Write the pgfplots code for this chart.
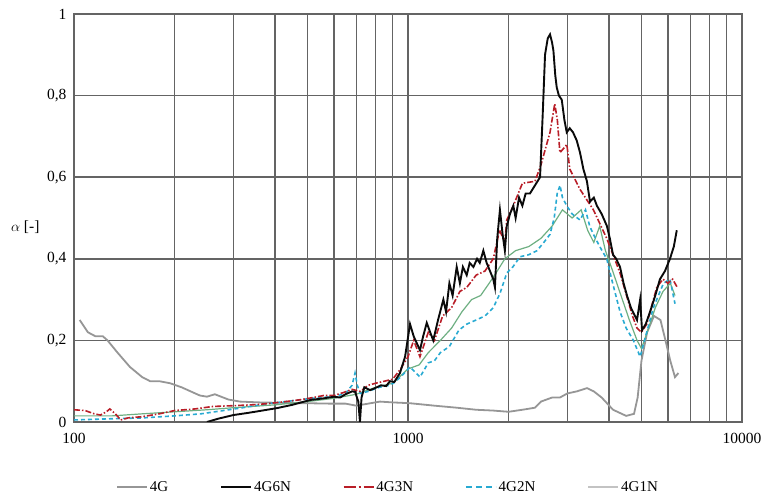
\documentclass[border=0pt]{standalone}
\usepackage{pgfplots}
\pgfplotsset{compat=1.18}
\usepackage{fontspec}
\setmainfont{Liberation Serif}
\definecolor{gridc}{RGB}{100,100,100}
\definecolor{c4G}{RGB}{150,150,150}
\definecolor{c6N}{RGB}{10,10,10}
\definecolor{c3N}{RGB}{185,30,40}
\definecolor{c2N}{RGB}{40,170,210}
\definecolor{c1N}{RGB}{110,175,130}
\definecolor{c1Nleg}{RGB}{195,195,195}
\begin{document}
\begin{tikzpicture}
\path[use as bounding box] (-74pt,-72pt) rectangle (690pt,422pt);
\begin{axis}[
  scale only axis, width=668pt, height=408pt,
  xmode=log, xmin=100, xmax=10000, ymin=0, ymax=1,
  xtick={100,1000,10000}, xticklabels={100,1000,10000},
  ytick={0,0.2,0.4,0.6,0.8,1},
  yticklabels={0,{0,2},{0,4},{0,6},{0,8},1},
  grid=both,
  major grid style={gridc, line width=1.5pt},
  minor grid style={gridc, line width=1.5pt},
  axis line style={gridc, line width=1.5pt},
  tick style={draw=none},
  ticklabel style={font=\fontsize{15.5}{17}\selectfont},
  xticklabel style={yshift=-8pt},
  yticklabel style={xshift=-4pt},
  ylabel={$\alpha$ [-]},
  ylabel style={rotate=-90, at={(axis description cs:-0.073,0.478)}, anchor=center, font=\fontsize{15.5}{17}\selectfont},
  legend columns=5,
  legend image code/.code={\draw[#1] (0pt,0pt) -- (30pt,0pt);},
  legend style={draw=none, fill=none, at={(axis description cs:0.5,0)}, anchor=north, xshift=-20pt, yshift=-55pt,
    font=\fontsize{15}{17}\selectfont,
    /tikz/every even column/.append style={column sep=50pt}},
]
% 4G
\addplot[forget plot, c4G, line width=1.8pt] coordinates {
(104,0.25) (110,0.22) (116,0.21) (122,0.21) (126,0.20) (135,0.17) (147,0.135) (160,0.11) (169,0.10) (180,0.10) (194,0.095) (210,0.085) (238,0.065) (250,0.062) (264,0.068) (290,0.055) (314,0.05) (360,0.048) (414,0.047) (500,0.046) (584,0.045) (650,0.045) (700,0.04) (760,0.045) (824,0.05) (900,0.048) (1014,0.046) (1200,0.04) (1400,0.035) (1600,0.03) (1800,0.028) (2000,0.025) (2200,0.03) (2400,0.035) (2500,0.05) (2700,0.06) (2850,0.06) (3000,0.07) (3200,0.075) (3435,0.083) (3600,0.075) (3800,0.06) (4110,0.03) (4500,0.015) (4750,0.02) (4870,0.06) (5000,0.15) (5200,0.22) (5450,0.26) (5700,0.25) (5900,0.2) (6100,0.15) (6300,0.11) (6450,0.12)
};
% 4G1N
\addplot[forget plot, c1N, line width=1.2pt] coordinates {
(100,0.015) (130,0.015) (160,0.02) (200,0.025) (250,0.03) (300,0.035) (400,0.042) (500,0.05) (600,0.058) (700,0.068) (800,0.085) (900,0.095) (1000,0.13) (1080,0.14) (1150,0.17) (1250,0.2) (1350,0.23) (1450,0.27) (1550,0.30) (1650,0.31) (1750,0.34) (1850,0.37) (1950,0.40) (2100,0.42) (2300,0.43) (2500,0.45) (2700,0.48) (2900,0.52) (3100,0.50) (3300,0.52) (3450,0.47) (3600,0.44) (3750,0.48) (3900,0.42) (4100,0.37) (4300,0.32) (4600,0.25) (4850,0.20) (5000,0.18) (5200,0.22) (5500,0.28) (5800,0.32) (6100,0.34) (6300,0.31)
};
% 4G2N
\addplot[forget plot, c2N, line width=1.6pt, dash pattern=on 4pt off 3pt] coordinates {
(100,0.005) (130,0.008) (160,0.01) (200,0.015) (240,0.02) (280,0.028) (320,0.035) (380,0.045) (430,0.05) (480,0.055) (540,0.06) (600,0.062) (650,0.07) (680,0.09) (694,0.12) (705,0.09) (720,0.07) (760,0.075) (820,0.085) (880,0.09) (904,0.095) (950,0.11) (1014,0.135) (1086,0.11) (1150,0.145) (1200,0.15) (1250,0.17) (1330,0.185) (1420,0.225) (1500,0.24) (1600,0.25) (1700,0.26) (1800,0.28) (1885,0.315) (1976,0.365) (2060,0.38) (2164,0.405) (2300,0.41) (2434,0.42) (2550,0.44) (2662,0.46) (2740,0.50) (2797,0.56) (2852,0.58) (2900,0.55) (2988,0.53) (3100,0.51) (3274,0.495) (3400,0.52) (3500,0.48) (3590,0.46) (3750,0.43) (3936,0.40) (4100,0.34) (4314,0.27) (4500,0.23) (4730,0.20) (4954,0.16) (5185,0.22) (5427,0.28) (5820,0.34) (6086,0.35) (6300,0.29)
};
% 4G3N
\addplot[forget plot, c3N, line width=1.6pt, dash pattern=on 6pt off 2pt on 1.5pt off 2pt] coordinates {
(100,0.03) (108,0.028) (115,0.02) (120,0.017) (125,0.025) (128,0.032) (133,0.02) (138,0.005) (145,0.01) (160,0.013) (180,0.02) (200,0.028) (230,0.032) (260,0.038) (300,0.04) (340,0.042) (380,0.045) (430,0.05) (480,0.055) (520,0.06) (560,0.065) (600,0.065) (640,0.072) (680,0.08) (720,0.075) (760,0.09) (800,0.095) (850,0.10) (900,0.105) (950,0.13) (1000,0.16) (1040,0.20) (1086,0.16) (1150,0.22) (1200,0.20) (1270,0.26) (1350,0.28) (1430,0.32) (1500,0.33) (1600,0.36) (1700,0.37) (1800,0.40) (1880,0.47) (1950,0.44) (1976,0.495) (2067,0.53) (2200,0.585) (2400,0.59) (2500,0.63) (2662,0.71) (2750,0.78) (2800,0.74) (2850,0.66) (2990,0.68) (3050,0.62) (3274,0.57) (3590,0.52) (3936,0.45) (4314,0.365) (4700,0.26) (4850,0.23) (5000,0.22) (5185,0.24) (5557,0.33) (5800,0.35) (6000,0.34) (6200,0.35) (6400,0.33)
};
% 4G6N
\addplot[forget plot, c6N, line width=1.9pt] coordinates {
(250,0.0) (270,0.008) (300,0.017) (330,0.022) (360,0.027) (405,0.034) (450,0.042) (510,0.054) (560,0.058) (600,0.062) (626,0.060) (650,0.068) (680,0.075) (694,0.074) (710,0.05) (718,0.0) (726,0.06) (740,0.085) (770,0.078) (797,0.083) (830,0.09) (860,0.088) (883,0.10) (910,0.098) (946,0.12) (980,0.16) (1014,0.24) (1040,0.21) (1086,0.176) (1110,0.21) (1138,0.243) (1165,0.22) (1190,0.20) (1230,0.25) (1276,0.30) (1300,0.27) (1330,0.34) (1360,0.31) (1399,0.38) (1430,0.34) (1460,0.38) (1499,0.36) (1530,0.39) (1570,0.38) (1610,0.40) (1640,0.39) (1681,0.42) (1720,0.39) (1760,0.37) (1800,0.35) (1821,0.33) (1850,0.45) (1885,0.52) (1920,0.46) (1950,0.42) (1976,0.48) (2020,0.51) (2067,0.53) (2100,0.50) (2150,0.55) (2200,0.53) (2250,0.56) (2318,0.56) (2400,0.58) (2485,0.60) (2530,0.75) (2572,0.90) (2620,0.94) (2662,0.95) (2700,0.93) (2725,0.91) (2760,0.85) (2788,0.82) (2830,0.80) (2886,0.79) (2940,0.74) (2987,0.71) (3050,0.72) (3119,0.71) (3200,0.69) (3274,0.66) (3350,0.62) (3433,0.59) (3507,0.54) (3600,0.55) (3678,0.53) (3800,0.51) (3942,0.48) (4020,0.45) (4110,0.41) (4200,0.40) (4313,0.38) (4420,0.34) (4525,0.31) (4650,0.28) (4849,0.25) (4954,0.30) (5020,0.225) (5150,0.24) (5305,0.27) (5500,0.31) (5680,0.35) (5880,0.37) (6086,0.40) (6250,0.43) (6380,0.47)
};
\addlegendimage{c4G, line width=1.8pt}\addlegendentry{4G}
\addlegendimage{c6N, line width=1.9pt}\addlegendentry{4G6N}
\addlegendimage{c3N, line width=1.6pt, dash pattern=on 12pt off 3pt on 2pt off 3pt}\addlegendentry{4G3N}
\addlegendimage{c2N, line width=1.6pt, dash pattern=on 6pt off 4pt}\addlegendentry{4G2N}
\addlegendimage{c1Nleg, line width=1.8pt}\addlegendentry{4G1N}
\node[font=\fontsize{15.5}{17}\selectfont] at (axis cs:5975,0) [yshift=-20pt] {f [Hz]};
\end{axis}
\end{tikzpicture}
\end{document}
